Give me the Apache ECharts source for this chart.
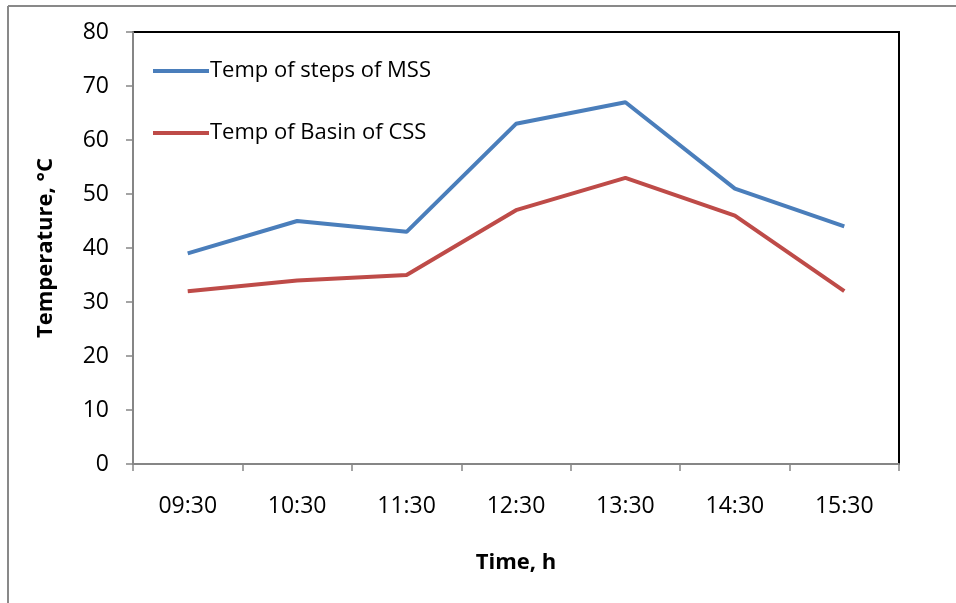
<!DOCTYPE html>
<html><head><meta charset="utf-8">
<script src="https://cdn.jsdelivr.net/npm/echarts@6/dist/echarts.min.js"></script>
<style>html,body{margin:0;padding:0;background:#fff}#c{width:956px;height:603px}</style>
</head><body><div id="c"></div>
<script>
const categories = ['09:30','10:30','11:30','12:30','13:30','14:30','15:30'];
const mssSteps = [39, 45, 43, 63, 67, 51, 44];
const cssBasin = [32, 34, 35, 47, 53, 46, 32];
const seriesNames = ['Temp of steps of MSS', 'Temp of Basin of CSS'];
const font = '"Open Sans", Lato, sans-serif';
const chart = echarts.init(document.getElementById('c'));
chart.setOption({
  backgroundColor: '#fff',
  animation: false,
  graphic: [
    {type:'line', shape:{x1:8,y1:6,x2:956,y2:6}, style:{stroke:'#898989', lineWidth:2}},
    {type:'line', shape:{x1:8,y1:6,x2:8,y2:603}, style:{stroke:'#898989', lineWidth:2}}
  ],
  grid: {left:133, right:57, top:32, bottom:139, show:true, borderColor:'#000', borderWidth:2, backgroundColor:'transparent'},
  legend: {
    left: 148, top: 55, orient: 'vertical', itemGap: 40,
    itemWidth: 56, itemHeight: 4,
    textStyle: {fontFamily: font, fontSize: 22, color:'#000', padding:[0,0,0,-4]},
    data: seriesNames.map(n => ({name:n, icon:'rect'}))
  },
  xAxis: {
    type:'category', data: categories, boundaryGap: true,
    name:'Time, h', nameLocation:'middle', nameGap: 88,
    nameTextStyle:{fontFamily:font, fontSize:22, fontWeight:'bold', color:'#000'},
    axisLine:{lineStyle:{color:'#868686', width:2}},
    axisTick:{show:true, length:7, lineStyle:{color:'#868686', width:1.5}},
    axisLabel:{fontFamily:font, fontSize:23, color:'#000', margin:31}
  },
  yAxis: {
    type:'value', min:0, max:80, interval:10,
    name:'Temperature, °C', nameLocation:'middle', nameGap: 76, nameRotate: 90,
    nameTextStyle:{fontFamily:font, fontSize:22, fontWeight:'bold', color:'#000'},
    axisLine:{show:true, lineStyle:{color:'#868686', width:2}},
    axisTick:{show:true, length:7, lineStyle:{color:'#868686', width:1.5}},
    axisLabel:{fontFamily:font, fontSize:23, color:'#000', margin:24},
    splitLine:{show:false}
  },
  series: [
    {name: seriesNames[0], type:'line', data: mssSteps, symbol:'none', lineStyle:{width:4, color:'#4A7EBB'}, itemStyle:{color:'#4A7EBB'}},
    {name: seriesNames[1], type:'line', data: cssBasin, symbol:'none', lineStyle:{width:4, color:'#BE4B48'}, itemStyle:{color:'#BE4B48'}}
  ]
});
</script></body></html>
